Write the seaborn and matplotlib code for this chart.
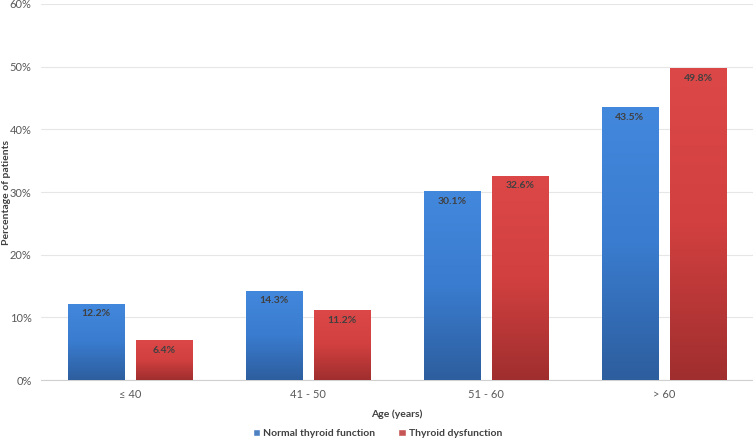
import numpy as np
import pandas as pd
import matplotlib
matplotlib.use('Agg')
import matplotlib.pyplot as plt
from matplotlib.colors import LinearSegmentedColormap
from matplotlib.ticker import PercentFormatter
import seaborn as sns

# data
age_groups = ['≤ 40', '41 - 50', '51 - 60', '> 60']
normal = [12.2, 14.3, 30.1, 43.5]
dysfunction = [6.4, 11.2, 32.6, 49.8]
series = ['Normal thyroid function', 'Thyroid dysfunction']

df = pd.DataFrame({
    'age': age_groups * 2,
    'pct': normal + dysfunction,
    'group': [series[0]] * 4 + [series[1]] * 4,
})

sns.set_style('white')
plt.rcParams['font.family'] = ['Lato', 'DejaVu Sans']

fig = plt.figure(figsize=(7.53, 4.38), dpi=100)
ax = fig.add_axes([0.054, 0.132, 0.946, 0.859])

colors = {series[0]: '#3b7fd4', series[1]: '#d94342'}
sns.barplot(data=df, x='age', y='pct', hue='group', palette=colors,
            width=0.764, gap=0.176, ax=ax, legend=True, zorder=3)

# vertical gradient fill on each bar (lighter top, darker bottom)
grads = {
    series[0]: LinearSegmentedColormap.from_list('b', ['#2d5e9e', '#3a7ccf', '#4288dd']),
    series[1]: LinearSegmentedColormap.from_list('r', ['#a02e2e', '#d24040', '#dc4847']),
}
grad = np.linspace(0, 1, 256).reshape(-1, 1)
for cont, name in zip(ax.containers, series):
    for bar in cont:
        x0, y0 = bar.get_x(), bar.get_y()
        w, h = bar.get_width(), bar.get_height()
        im = ax.imshow(grad, cmap=grads[name], origin='lower', aspect='auto',
                       extent=[x0, x0 + w, y0, y0 + h], zorder=3.5)
        im.set_clip_path(bar)
        bar.set_edgecolor('#ffffff')
        bar.set_linewidth(0.3)
        ax.text(x0 + w / 2, y0 + h - 0.9, f'{h:.1f}%', ha='center', va='top',
                fontsize=7.5, fontweight='bold', color='#404040', zorder=5)

ax.set_xlim(-0.5, 3.5)
ax.set_ylim(0, 60)
ax.set_yticks(np.arange(0, 61, 10))
ax.yaxis.set_major_formatter(PercentFormatter(decimals=0))
ax.grid(axis='y', color='#e6e6e6', linewidth=0.8, zorder=0)
for s in ['top', 'right', 'left']:
    ax.spines[s].set_visible(False)
ax.spines['bottom'].set_color('#d0d0d0')
ax.tick_params(axis='both', length=0, labelsize=8, labelcolor='#595959', pad=6)
ax.tick_params(axis='y', pad=6.5)

ax.set_xlabel('Age (years)', fontsize=7.5, fontweight='bold', color='#404040', labelpad=7)
ax.set_ylabel('Percentage of patients', fontsize=7.5, fontweight='bold', color='#404040')
ax.yaxis.set_label_coords(-0.041, 0.5)

ax.legend(loc='center', bbox_to_anchor=(0.473, -0.141), ncol=2, frameon=False,
          handlelength=0.7, handleheight=0.7, handletextpad=0.3,
          columnspacing=2.2, prop={'weight': 'bold', 'size': 7.5})
for t in ax.get_legend().get_texts():
    t.set_color('#404040')

fig.savefig('out.png', dpi=100)
